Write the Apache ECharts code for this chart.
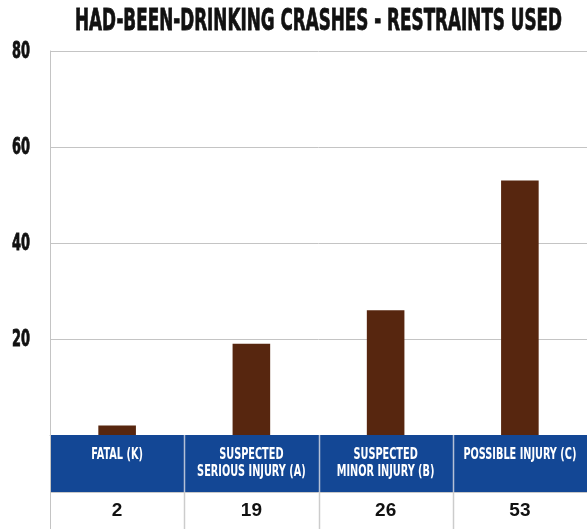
<!DOCTYPE html>
<html><head><meta charset="utf-8">
<script src="https://cdn.jsdelivr.net/npm/echarts@6/dist/echarts.min.js"></script>
<style>html,body{margin:0;padding:0;background:#fff}#c{width:587px;height:529px}</style>
</head><body><div id="c"></div>
<script>
const categories = ['FATAL (K)', 'SUSPECTED\nSERIOUS INJURY (A)', 'SUSPECTED\nMINOR INJURY (B)', 'POSSIBLE INJURY (C)'];
const values = [2, 19, 26, 53];
const yTicks = [0, 20, 40, 60, 80];
const yTickLabels = ['', '20', '40', '60', '80'];
const titleText = 'HAD-BEEN-DRINKING CRASHES - RESTRAINTS USED';

const COND = "'Liberation Sans Narrow', 'DejaVu Sans Condensed', 'Roboto', sans-serif";
const BANDH = 57, ROWH = 37;
const chart = echarts.init(document.getElementById('c'), null, {renderer: 'canvas'});
chart.setOption({
  animation: false,
  grid: {left: 50, right: 0, top: 51, bottom: BANDH + ROWH},
  xAxis: {type: 'category', data: categories,
    axisLine: {lineStyle: {color: '#c4c4c4'}}, axisTick: {show: false}, axisLabel: {show: false}},
  yAxis: {type: 'value', min: yTicks[0], max: yTicks[yTicks.length - 1], interval: yTicks[1] - yTicks[0],
    axisLine: {show: true, lineStyle: {color: '#c4c4c4', width: 1}},
    splitLine: {lineStyle: {color: '#c4c4c4', width: 1}},
    axisLabel: {show: false}},
  series: [{type: 'bar', data: values, barWidth: '28%', itemStyle: {color: '#57260f'}}]
});

const ctx = document.createElement('canvas').getContext('2d');
function measure(t, font) { ctx.font = font; return ctx.measureText(t).width; }

const titleFont = 'bold 31px ' + COND;
const titleScale = 487 / measure(titleText, titleFont);
const catFont = 'bold 15px ' + COND;
const catScale = 113 / measure('POSSIBLE INJURY (C)', catFont);
const yFont = 'bold 23px ' + COND;
const yScale = 18 / measure('80', yFont);

const x0 = chart.convertToPixel({xAxisIndex: 0}, 0);
const x1 = chart.convertToPixel({xAxisIndex: 0}, 1);
const colW = x1 - x0;
const yBase = chart.convertToPixel({yAxisIndex: 0}, 0);
const left = x0 - colW / 2;
const right = left + colW * categories.length;
const els = [];
els.push({type: 'rect', shape: {x: left, y: yBase, width: right - left, height: BANDH}, style: {fill: '#134795'}, z: 1});
els.push({type: 'line', shape: {x1: left, y1: yBase + BANDH + 0.5, x2: right, y2: yBase + BANDH + 0.5}, style: {stroke: '#c9c9c9', lineWidth: 1}, z: 2});
els.push({type: 'line', shape: {x1: left + 0.5, y1: yBase, x2: left + 0.5, y2: yBase + BANDH + ROWH}, style: {stroke: '#c4c4c4', lineWidth: 1}, z: 2});
for (let i = 1; i < categories.length; i++) {
  const xs = Math.round(left + colW * i) + 0.5;
  els.push({type: 'line', shape: {x1: xs, y1: yBase, x2: xs, y2: yBase + BANDH}, style: {stroke: '#b4c0d6', lineWidth: 1.5}, z: 2});
  els.push({type: 'line', shape: {x1: xs, y1: yBase + BANDH, x2: xs, y2: yBase + BANDH + ROWH}, style: {stroke: '#cccccc', lineWidth: 1.5}, z: 2});
}
categories.forEach((c, i) => {
  const cx = chart.convertToPixel({xAxisIndex: 0}, i);
  els.push({type: 'text', x: cx, y: yBase + 12, scaleX: catScale, z: 3,
    style: {text: c, font: catFont, fill: '#ffffff', textAlign: 'center', align: 'center', textVerticalAlign: 'top', verticalAlign: 'top', lineHeight: 17}});
  els.push({type: 'text', x: cx, y: yBase + BANDH + ROWH / 2, z: 3,
    style: {text: String(values[i]), font: "bold 19px 'Liberation Sans', Arial, sans-serif", fill: '#111', textAlign: 'center', align: 'center', textVerticalAlign: 'middle', verticalAlign: 'middle'}});
});
yTicks.forEach((v, i) => {
  if (!yTickLabels[i]) return;
  const py = chart.convertToPixel({yAxisIndex: 0}, v);
  els.push({type: 'text', x: 30, y: py + 1, scaleX: yScale, z: 3,
    style: {text: yTickLabels[i], font: yFont, fill: '#111', stroke: '#111', lineWidth: 0.8, textAlign: 'right', align: 'right', textVerticalAlign: 'middle', verticalAlign: 'middle'}});
});
els.push({type: 'text', x: (left + right) / 2, y: 22, scaleX: titleScale, z: 3,
  style: {text: titleText, font: titleFont, fill: '#111', stroke: '#111', lineWidth: 0.8, textAlign: 'center', align: 'center', textVerticalAlign: 'middle', verticalAlign: 'middle'}});
chart.setOption({graphic: {elements: els}});
</script>
</body></html>
